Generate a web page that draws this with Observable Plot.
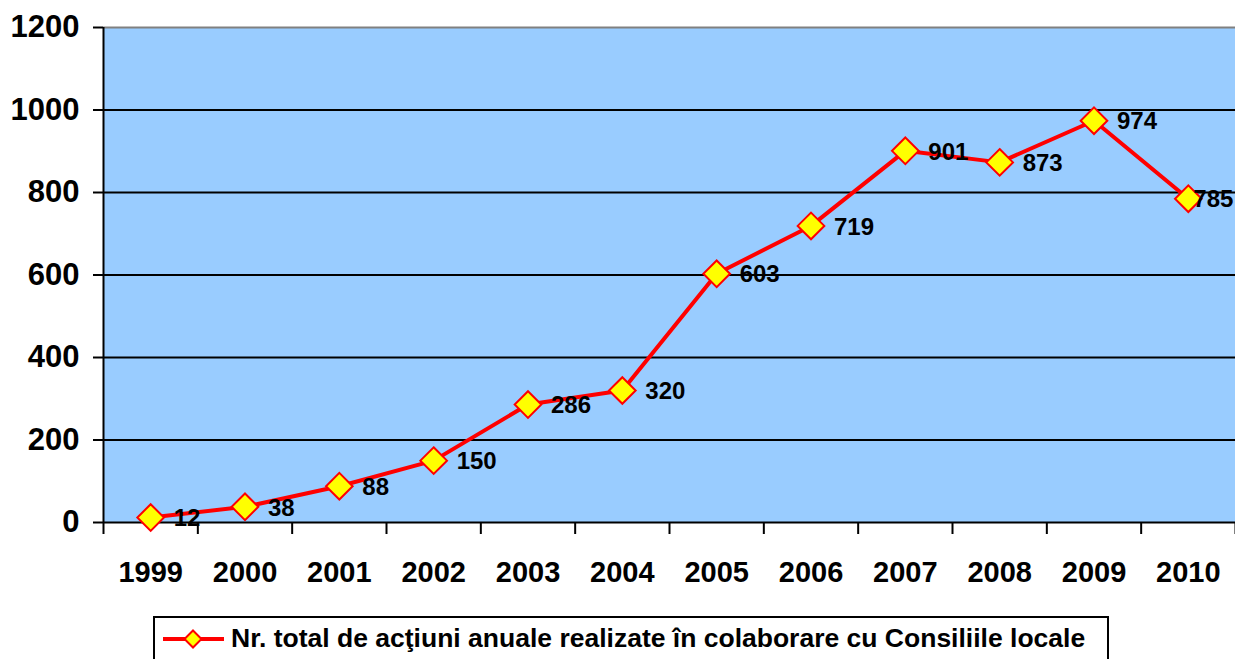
<!DOCTYPE html>
<html>
<head>
<meta charset="utf-8">
<script src="https://cdn.jsdelivr.net/npm/d3@7"></script>
<script src="https://cdn.jsdelivr.net/npm/@observablehq/plot@0.6"></script>
<style>
  html, body { margin: 0; padding: 0; background: #fff; }
  body { width: 1235px; height: 659px; overflow: hidden; font-family: "Liberation Sans", Arial, sans-serif; }
  #chart svg { display: block; }
  #legend {
    position: absolute; left: 153px; top: 616px; width: 956px; height: 50px;
    border: 2px solid #000; box-sizing: border-box; background: #fff;
    display: flex; align-items: flex-start; font-weight: bold; font-size: 26.5px; color: #000;
  }
  #legend svg { margin-top: 2px; margin-left: 7px; }
  #legend span { margin-top: 5px; margin-left: 3px; white-space: nowrap; }
</style>
</head>
<body>
<div id="chart"></div>
<div id="legend"></div>
<script>
const years = [1999, 2000, 2001, 2002, 2003, 2004, 2005, 2006, 2007, 2008, 2009, 2010];
const values = [12, 38, 88, 150, 286, 320, 603, 719, 901, 873, 974, 785];
const yTicks = [0, 200, 400, 600, 800, 1000, 1200];
const seriesName = "Nr. total de acţiuni anuale realizate în colaborare cu Consiliile locale";

const data = years.map((y, i) => ({year: y, value: values[i]}));
const boundaries = years.map(y => y - 0.5).concat([years[years.length - 1] + 0.5]);
const lastYear = years[years.length - 1];

const chart = Plot.plot({
  width: 1235,
  height: 600,
  marginLeft: 103,
  marginRight: 0,
  marginTop: 27,
  marginBottom: 78,
  style: {fontFamily: "'Liberation Sans', Arial, sans-serif", fontWeight: "bold", color: "#000", background: "#fff"},
  x: {type: "linear", domain: [years[0] - 0.5, lastYear + 0.5]},
  y: {domain: [0, 1200]},
  marks: [
    Plot.frame({fill: "#99CCFF", stroke: null}),
    Plot.ruleY(yTicks.filter(t => t > 0 && t < 1200), {stroke: "#000", strokeWidth: 2}),
    Plot.ruleY([1200], {stroke: "#808080", strokeWidth: 2}),
    Plot.axisY({ticks: yTicks, tickSize: 10, tickPadding: 14, tickFormat: d => String(d), fontSize: 31, strokeWidth: 2, label: null}),
    Plot.ruleX([years[0] - 0.5], {stroke: "#000", strokeWidth: 2}),
    Plot.axisX({ticks: boundaries, tickSize: 12, tickFormat: () => "", strokeWidth: 2, label: null}),
    Plot.axisX({ticks: years, tickSize: 0, tickPadding: 39, tickFormat: d => String(d), fontSize: 29, label: null}),
    Plot.ruleY([0], {stroke: "#000", strokeWidth: 2}),
    Plot.line(data, {x: "year", y: "value", stroke: "#FF0000", strokeWidth: 4}),
    Plot.dot(data, {x: "year", y: "value", symbol: "diamond2", r: 12, fill: "#FFFF00", stroke: "#FF0000", strokeWidth: 2}),
    Plot.text(data.filter(d => d.year !== lastYear), {x: "year", y: "value", text: d => String(d.value), textAnchor: "start", dx: 23, dy: 1, fontSize: 24, fontWeight: "bold", fill: "#000"}),
    Plot.text(data.filter(d => d.year === lastYear), {x: "year", y: "value", text: d => String(d.value), textAnchor: "start", dx: 5, dy: 1, fontSize: 24, fontWeight: "bold", fill: "#000"})
  ]
});
document.getElementById("chart").appendChild(chart);

// legend
const leg = document.getElementById("legend");
const sw = d3.create("svg").attr("width", 66).attr("height", 36);
sw.append("line").attr("x1", 1).attr("x2", 62).attr("y1", 19).attr("y2", 19).attr("stroke", "#FF0000").attr("stroke-width", 4);
sw.append("path").attr("d", d3.symbol(d3.symbolDiamond2, 184)()).attr("transform", "translate(31,19)")
  .attr("fill", "#FFFF00").attr("stroke", "#FF0000").attr("stroke-width", 2);
leg.appendChild(sw.node());
const span = document.createElement("span");
span.textContent = seriesName;
leg.appendChild(span);
</script>
</body>
</html>
